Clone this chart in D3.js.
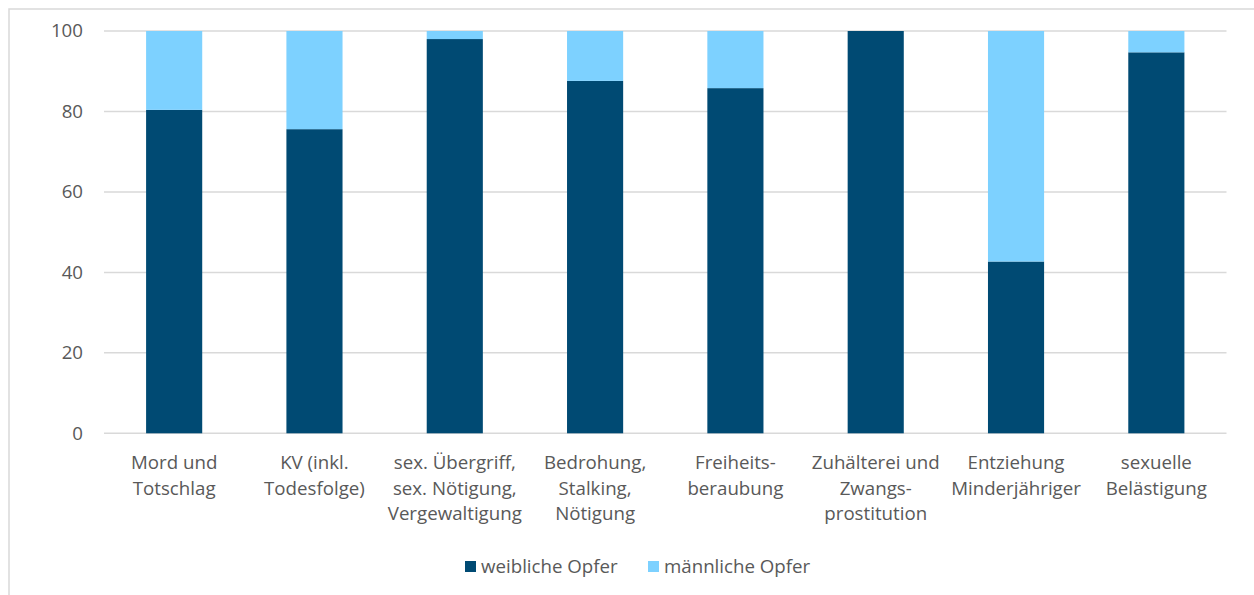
<!DOCTYPE html>
<html><head><meta charset="utf-8">
<script src="https://cdn.jsdelivr.net/npm/d3@7"></script>
<style>body{margin:0;background:#fff}svg{display:block}</style>
</head><body>
<svg id="c" width="1254" height="595"></svg>
<script>
const categories = [
  ["Mord und","Totschlag"],
  ["KV (inkl.","Todesfolge)"],
  ["sex. Übergriff,","sex. Nötigung,","Vergewaltigung"],
  ["Bedrohung,","Stalking,","Nötigung"],
  ["Freiheits-","beraubung"],
  ["Zuhälterei und","Zwangs-","prostitution"],
  ["Entziehung","Minderjähriger"],
  ["sexuelle","Belästigung"]
];
const weiblich = [80.4, 75.6, 98.0, 87.6, 85.8, 100, 42.7, 94.7];
const maennlich = [19.6, 24.4, 2.0, 12.4, 14.2, 0, 57.3, 5.3];
const yTicks = [0, 20, 40, 60, 80, 100];
const seriesNames = ["weibliche Opfer", "männliche Opfer"];
const colors = ["#004a73", "#7dd1ff"];

(function () {
const svg = d3.select("#c");
const font = "'Open Sans', Lato, sans-serif";
const fs = 18.7;
const textColor = "#595959";

// outer border
svg.append("rect").attr("x", 9).attr("y", 9).attr("width", 1260).attr("height", 600)
  .attr("fill", "none").attr("stroke", "#d9d9d9").attr("stroke-width", 1.5);

const mL = 104, mR = 1226.5, mT = 31, mB = 433.3;
const idx = d3.range(categories.length);
const x = d3.scaleBand().domain(idx).range([mL, mR]).paddingInner(0.6).paddingOuter(0.3);
const y = d3.scaleLinear().domain([0, 100]).range([mB, mT]);

// gridlines
svg.append("g").selectAll("line").data(yTicks).join("line")
  .attr("x1", mL).attr("x2", mR)
  .attr("y1", d => y(d)).attr("y2", d => y(d))
  .attr("stroke", "#d9d9d9").attr("stroke-width", 1.5);

// y axis labels
const yAxis = d3.axisLeft(y).tickValues(yTicks).tickSize(0).tickPadding(0);
const yg = svg.append("g").attr("transform", `translate(83,0)`).call(yAxis);
yg.select(".domain").remove();
yg.selectAll("text").attr("font-family", font).attr("font-size", fs).attr("fill", textColor);

// stacked bars
const data = idx.map(i => ({i, w: weiblich[i], m: maennlich[i]}));
const stack = d3.stack().keys(["w", "m"])(data);
svg.append("g").selectAll("g").data(stack).join("g")
  .attr("fill", (d, k) => colors[k])
  .selectAll("rect").data(d => d).join("rect")
  .attr("x", d => x(d.data.i))
  .attr("width", x.bandwidth())
  .attr("y", d => y(d[1]))
  .attr("height", d => y(d[0]) - y(d[1]));

// x labels
const xl = svg.append("g");
categories.forEach((lines, i) => {
  const cx = x(i) + x.bandwidth() / 2;
  const t = xl.append("text").attr("x", cx).attr("y", 469)
    .attr("text-anchor", "middle").attr("font-family", font).attr("font-size", fs).attr("fill", textColor);
  lines.forEach((l, j) => t.append("tspan").attr("x", cx).attr("dy", j ? 25.5 : 0).text(l));
});

// legend
const lg = svg.append("g");
const legendX = [465, 648];
seriesNames.forEach((n, k) => {
  lg.append("rect").attr("x", legendX[k]).attr("y", 561).attr("width", 11).attr("height", 11).attr("fill", colors[k]);
  lg.append("text").attr("x", legendX[k] + 16).attr("y", 573).attr("font-family", font).attr("font-size", fs)
    .attr("fill", textColor).text(n);
});
})();
</script>
</body></html>
